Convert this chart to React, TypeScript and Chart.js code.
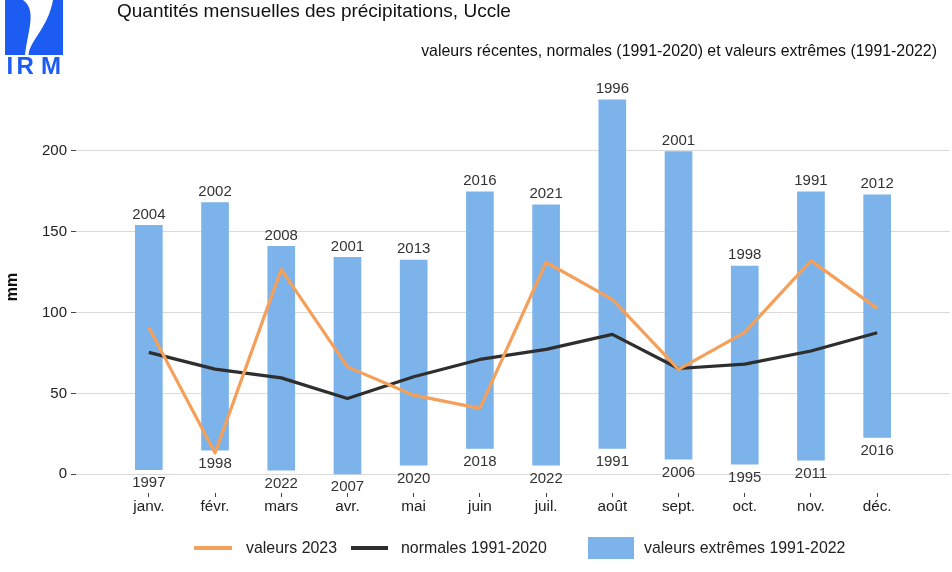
import React, { useEffect, useRef } from "react";
import { Chart, registerables } from "chart.js";

Chart.register(...registerables);

const months = ["janv.", "févr.", "mars", "avr.", "mai", "juin", "juil.", "août", "sept.", "oct.", "nov.", "déc."];
const extremeMax = [154, 168, 141, 134.2, 132.5, 174.6, 166.6, 231.6, 199.6, 128.8, 174.6, 172.8];
const extremeMin = [2.9, 14.9, 2.5, 0.2, 5.6, 15.9, 5.6, 15.9, 9.3, 6.2, 8.7, 22.7];
const maxYears = ["2004", "2002", "2008", "2001", "2013", "2016", "2021", "1996", "2001", "1998", "1991", "2012"];
const minYears = ["1997", "1998", "2022", "2007", "2020", "2018", "2022", "1991", "2006", "1995", "2011", "2016"];
const values2023 = [90.8, 13.2, 126.7, 66.4, 48.9, 40.7, 131.1, 108.2, 64.8, 87.7, 132.1, 102.6];
const normals = [75.4, 65.0, 59.6, 46.9, 60.3, 71.0, 77.2, 86.5, 65.4, 68.1, 76.2, 87.5];
const yTicks = [0, 50, 100, 150, 200];

const FONT = "'Liberation Sans', Arial, Helvetica, sans-serif";
const ORANGE = "#f5a05a";
const BLACK = "#2e2e2e";
const BLUE = "#7cb3ea";
const LOGO_BLUE = "#1c5cf2";

const overlay = {
  id: "overlay",
  afterDraw(chart: any) {
    const ctx = chart.ctx as CanvasRenderingContext2D;
    const yScale = chart.scales.y;
    const xScale = chart.scales.x;
    ctx.save();

    // Year labels
    ctx.fillStyle = "#333333";
    ctx.font = `15px ${FONT}`;
    ctx.textAlign = "center";
    ctx.textBaseline = "alphabetic";
    for (let i = 0; i < months.length; i++) {
      const x = xScale.getPixelForValue(i);
      const top = yScale.getPixelForValue(extremeMax[i]);
      const bot = yScale.getPixelForValue(extremeMin[i]);
      ctx.fillText(maxYears[i], x, top - 6.5);
      ctx.fillText(minYears[i], x, bot + 17.5);
    }

    // Title & subtitle
    ctx.fillStyle = "#111111";
    ctx.textAlign = "left";
    ctx.font = `19px ${FONT}`;
    ctx.fillText("Quantités mensuelles des précipitations, Uccle", 117, 17);
    ctx.textAlign = "right";
    ctx.font = `15.9px ${FONT}`;
    ctx.fillText("valeurs récentes, normales (1991-2020) et valeurs extrêmes (1991-2022)", 937, 56);

    // y-axis title
    ctx.save();
    ctx.translate(17, 287);
    ctx.rotate(-Math.PI / 2);
    ctx.textAlign = "center";
    ctx.font = `bold 16px ${FONT}`;
    ctx.fillStyle = "#111111";
    ctx.fillText("mm", 0, 0);
    ctx.restore();

    // Logo
    ctx.fillStyle = LOGO_BLUE;
    ctx.fillRect(5, 0, 58, 55);
    ctx.fillStyle = "#ffffff";
    ctx.beginPath();
    ctx.moveTo(23, 0);
    ctx.bezierCurveTo(37, 10, 28, 30, 25, 55);
    ctx.lineTo(28.5, 55);
    ctx.bezierCurveTo(30, 40, 48, 28, 53, 0);
    ctx.closePath();
    ctx.fill();
    ctx.fillStyle = LOGO_BLUE;
    ctx.font = `bold 24px ${FONT}`;
    ctx.textAlign = "left";
    ctx.textBaseline = "alphabetic";
    ctx.fillText("I", 6.5, 74);
    ctx.fillText("R", 16.5, 74);
    ctx.fillText("M", 41, 74);

    // Legend
    ctx.lineCap = "butt";
    ctx.lineWidth = 4;
    ctx.strokeStyle = ORANGE;
    ctx.beginPath();
    ctx.moveTo(194, 548);
    ctx.lineTo(232, 548);
    ctx.stroke();
    ctx.strokeStyle = BLACK;
    ctx.beginPath();
    ctx.moveTo(351, 548);
    ctx.lineTo(388, 548);
    ctx.stroke();
    ctx.fillStyle = BLUE;
    ctx.fillRect(588, 537, 46, 22);
    ctx.fillStyle = "#222222";
    ctx.font = `15.9px ${FONT}`;
    ctx.textBaseline = "middle";
    ctx.textAlign = "left";
    ctx.fillText("valeurs 2023", 246, 549);
    ctx.fillText("normales 1991-2020", 401, 549);
    ctx.fillText("valeurs extrêmes 1991-2022", 644, 549);

    ctx.restore();
  },
};

export default function App() {
  const ref = useRef<HTMLCanvasElement | null>(null);
  useEffect(() => {
    document.body.style.margin = "0";
    const canvas = ref.current;
    if (!canvas) return;
    const chart = new Chart(canvas, {
      type: "bar",
      data: {
        datasets: [
          {
            type: "line",
            label: "valeurs 2023",
            data: values2023.map((v, i) => ({ x: i, y: v })),
            borderColor: ORANGE,
            borderWidth: 3.2,
            pointRadius: 0,
            tension: 0,
            borderJoinStyle: "round",
            order: 0,
          } as any,
          {
            type: "line",
            label: "normales 1991-2020",
            data: normals.map((v, i) => ({ x: i, y: v })),
            borderColor: BLACK,
            borderWidth: 3.2,
            pointRadius: 0,
            tension: 0,
            borderJoinStyle: "round",
            order: 1,
          } as any,
          {
            type: "bar",
            label: "valeurs extrêmes 1991-2022",
            data: extremeMin.map((v, i) => ({ x: i, y: [v, extremeMax[i]] })),
            backgroundColor: BLUE,
            borderWidth: 0,
            barThickness: 27,
            order: 2,
          } as any,
        ],
      },
      options: {
        responsive: false,
        animation: false,
        layout: { padding: { top: 81, right: 2, left: 0, bottom: 0 } },
        plugins: { legend: { display: false }, tooltip: { enabled: false }, title: { display: false } },
        scales: {
          x: {
            type: "linear",
            offset: false,
            min: -1.1,
            max: 12.1,
            afterBuildTicks: (scale: any) => {
              scale.ticks = months.map((_, i) => ({ value: i }));
            },
            afterFit: (scale: any) => {
              scale.height = 79;
            },
            ticks: {
              autoSkip: false,
              maxRotation: 0,
              padding: 1,
              color: "#222222",
              font: { family: FONT, size: 15.3 },
              callback: (v: any) => months[v as number] ?? "",
            },
            grid: { offset: false, drawOnChartArea: false, drawTicks: true, tickLength: 4, tickColor: "#444444" },
            border: { display: false },
          },
          y: {
            type: "linear",
            min: -11.6,
            max: 243.2,
            afterBuildTicks: (scale: any) => {
              scale.ticks = yTicks.map((v) => ({ value: v }));
            },
            afterFit: (scale: any) => {
              scale.width = 76;
            },
            ticks: {
              padding: 4,
              color: "#222222",
              font: { family: FONT, size: 15 },
            },
            grid: { color: "#dadada", lineWidth: 1, tickLength: 5, tickColor: "#444444" },
            border: { display: false },
          },
        },
      },
      plugins: [overlay],
    });
    return () => chart.destroy();
  }, []);
  return (
    <div style={{ width: 952, height: 572, position: "relative", background: "#ffffff" }}>
      <canvas ref={ref} width={952} height={572} style={{ display: "block" }} />
    </div>
  );
}
